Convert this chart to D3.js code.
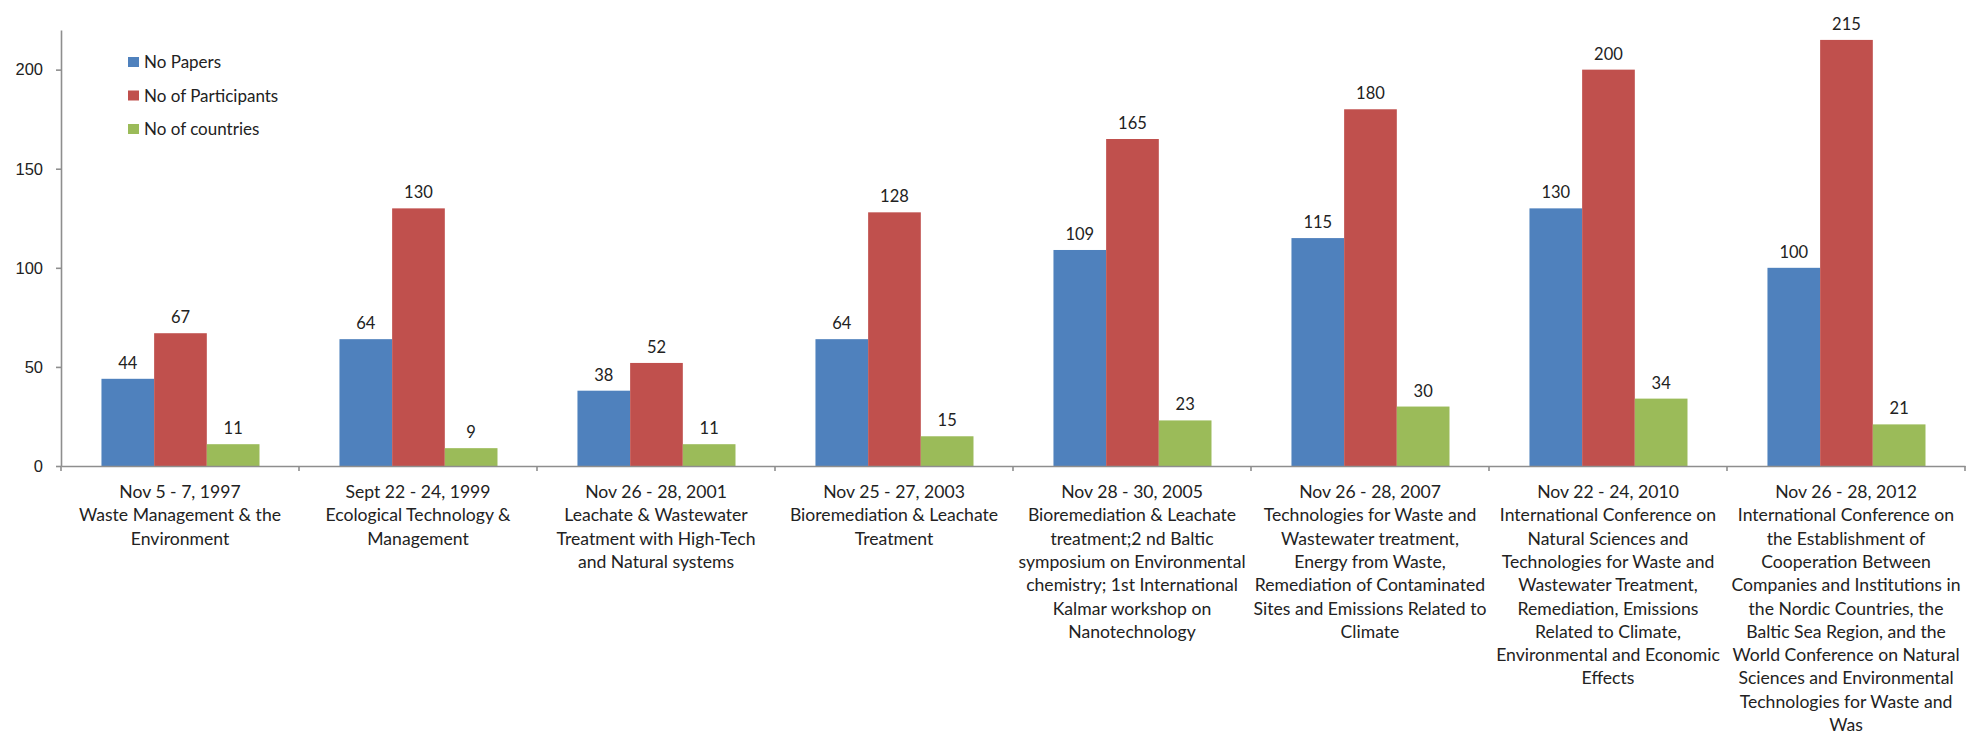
<!DOCTYPE html>
<html>
<head>
<meta charset="utf-8">
<script src="https://cdn.jsdelivr.net/npm/d3@7"></script>
<style>
  body { margin: 0; background: #fff; }
  svg { display: block; font-family: Lato, "Liberation Sans", Arial, sans-serif; }
</style>
</head>
<body>
<div id="chart"></div>
<script>
// conferences, one entry per group (label lines as shown under the axis)
var categories = ["1997", "1999", "2001", "2003", "2005", "2007", "2010", "2012"];
var categoryLabels = [
  ["Nov 5 - 7, 1997", "Waste Management & the", "Environment"],
  ["Sept 22 - 24, 1999", "Ecological Technology &", "Management"],
  ["Nov 26 - 28, 2001", "Leachate & Wastewater", "Treatment with High-Tech", "and Natural systems"],
  ["Nov 25 - 27, 2003", "Bioremediation & Leachate", "Treatment"],
  ["Nov 28 - 30, 2005", "Bioremediation & Leachate", "treatment;2 nd Baltic", "symposium on Environmental", "chemistry; 1st International", "Kalmar workshop on", "Nanotechnology"],
  ["Nov 26 - 28, 2007", "Technologies for Waste and", "Wastewater treatment,", "Energy from Waste,", "Remediation of Contaminated", "Sites and Emissions Related to", "Climate"],
  ["Nov 22 - 24, 2010", "International Conference on", "Natural Sciences and", "Technologies for Waste and", "Wastewater Treatment,", "Remediation, Emissions", "Related to Climate,", "Environmental and Economic", "Effects"],
  ["Nov 26 - 28, 2012", "International Conference on", "the Establishment of", "Cooperation Between", "Companies and Institutions in", "the Nordic Countries, the", "Baltic Sea Region, and the", "World Conference on Natural", "Sciences and Environmental", "Technologies for Waste and", "Was"]
];

var seriesNames = ["No Papers", "No of Participants", "No of countries"];
var papers       = [44, 64, 38, 64, 109, 115, 130, 100];
var participants = [67, 130, 52, 128, 165, 180, 200, 215];
var countries    = [11, 9, 11, 15, 23, 30, 34, 21];
var seriesValues = [papers, participants, countries];
var seriesColors = ["#4f81bd", "#c0504d", "#9bbb59"];

var yTicks = [0, 50, 100, 150, 200];

var width = 1967, height = 734;
var svg = d3.select("#chart").append("svg")
  .attr("width", width)
  .attr("height", height);

var x = d3.scaleBand()
  .domain(categories)
  .range([61, 1965])
  .padding(0);

var xInner = d3.scaleBand()
  .domain(d3.range(seriesNames.length))
  .range([x.bandwidth() * 0.17, x.bandwidth() * 0.834])
  .padding(0);

var y = d3.scaleLinear()
  .domain([0, 220])
  .range([466, 30]);

// y axis
var yAxis = svg.append("g")
  .attr("transform", "translate(61,0)")
  .call(d3.axisLeft(y).tickValues(yTicks).tickSize(5).tickSizeOuter(0).tickPadding(13));
yAxis.selectAll("path, line").attr("stroke", "#8e8e8e").attr("stroke-width", 1.6);
yAxis.selectAll("text").attr("font-size", 16.5).attr("fill", "#222").attr("font-family", null);

// groups of bars
var groups = svg.append("g").selectAll("g")
  .data(categories)
  .join("g")
  .attr("transform", function(d) { return "translate(" + x(d) + ",0)"; });

groups.selectAll("rect")
  .data(function(d, i) { return seriesValues.map(function(s, k) { return { k: k, v: s[i] }; }); })
  .join("rect")
  .attr("x", function(d) { return xInner(d.k); })
  .attr("width", xInner.bandwidth())
  .attr("y", function(d) { return y(d.v); })
  .attr("height", function(d) { return y(0) - y(d.v); })
  .attr("fill", function(d) { return seriesColors[d.k]; });

groups.selectAll("text.val")
  .data(function(d, i) { return seriesValues.map(function(s, k) { return { k: k, v: s[i] }; }); })
  .join("text")
  .attr("class", "val")
  .attr("x", function(d) { return xInner(d.k) + xInner.bandwidth() / 2; })
  .attr("y", function(d) { return y(d.v) - 10; })
  .attr("text-anchor", "middle")
  .attr("font-size", 16.5)
  .attr("fill", "#222")
  .text(function(d) { return d.v; });

// x axis
var xAxis = svg.append("g")
  .attr("transform", "translate(0," + y(0) + ")")
  .call(d3.axisBottom(x).tickSize(0).tickSizeOuter(0).tickFormat(""));
xAxis.select(".domain").attr("stroke", "#8e8e8e").attr("stroke-width", 1.6);

var bounds = categories.map(function(c) { return x(c); }).concat([x.range()[1]]);
xAxis.selectAll("line.bound")
  .data(bounds)
  .join("line")
  .attr("class", "bound")
  .attr("x1", function(d) { return d; })
  .attr("x2", function(d) { return d; })
  .attr("y1", 0)
  .attr("y2", 5)
  .attr("stroke", "#8e8e8e")
  .attr("stroke-width", 1.6);

var labels = svg.append("g").selectAll("text")
  .data(categories)
  .join("text")
  .attr("text-anchor", "middle")
  .attr("font-size", 17.6)
  .attr("fill", "#222")
  .attr("transform", function(d) { return "translate(" + (x(d) + x.bandwidth() / 2) + ",498)"; });

labels.selectAll("tspan")
  .data(function(d, i) { return categoryLabels[i]; })
  .join("tspan")
  .attr("x", 0)
  .attr("y", function(d, j) { return j * 23.3; })
  .text(function(d) { return d; });

// legend
var legend = svg.append("g").selectAll("g")
  .data(seriesNames)
  .join("g")
  .attr("transform", function(d, i) { return "translate(128," + (57 + i * 33.5) + ")"; });

legend.append("rect")
  .attr("width", 11)
  .attr("height", 10)
  .attr("fill", function(d, i) { return seriesColors[i]; });

legend.append("text")
  .attr("x", 16)
  .attr("y", 11)
  .attr("font-size", 17)
  .attr("fill", "#222")
  .text(function(d) { return d; });
</script>
</body>
</html>
